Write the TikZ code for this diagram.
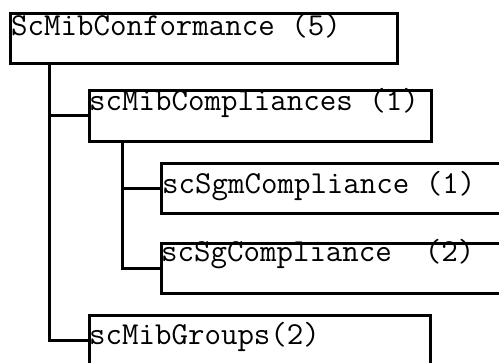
\documentclass[tikz,border=0pt]{standalone}
\usepackage{fontspec}

\tikzset{
	mibbox/.style={draw, line width=3pt, anchor=north west, inner sep=0pt},
	miblabel/.style={anchor=base west, inner sep=0pt, font=\ttfamily\fontsize{32}{34}\selectfont},
	wire/.style={line width=3pt}
}

\begin{document}
\begin{tikzpicture}[x=1pt,y=-1pt]
	\clip (0,0) rectangle (499,363);
	\fill[white] (0,0) rectangle (499,363);
	% boxes
	\node (conf) at (9,12) [mibbox, minimum width=387pt, minimum height=50pt] {};
	\node (compl) at (88,89) [mibbox, minimum width=342pt, minimum height=51pt] {};
	\node (sgm) at (160,162) [mibbox, minimum width=360pt, minimum height=50pt] {};
	\node (sg) at (160,242) [mibbox, minimum width=360pt, minimum height=50pt] {};
	\node (groups) at (88,314) [mibbox, minimum width=341pt, minimum height=50pt] {};
	% labels
	\node (conf-lbl) at (11,36) [miblabel] {ScMibConformance (5)};
	\node (compl-lbl) at (89,111) [miblabel] {scMibCompliances (1)};
	\node (sgm-lbl) at (162,194) [miblabel] {scSgmCompliance (1)};
	\node (sg-lbl) at (161,262) [miblabel] {scSgCompliance\ \ (2)};
	\node (groups-lbl) at (89,345) [miblabel] {scMibGroups(2)};
	% tree lines
	\draw[wire] ([xshift=40pt]conf.south west) |- (compl.west);
	\draw[wire] ([xshift=40pt]conf.south west) |- (groups.west);
	\draw[wire] ([xshift=34pt]compl.south west) |- (sgm.west);
	\draw[wire] ([xshift=34pt]compl.south west) |- (sg.west);
\end{tikzpicture}
\end{document}
